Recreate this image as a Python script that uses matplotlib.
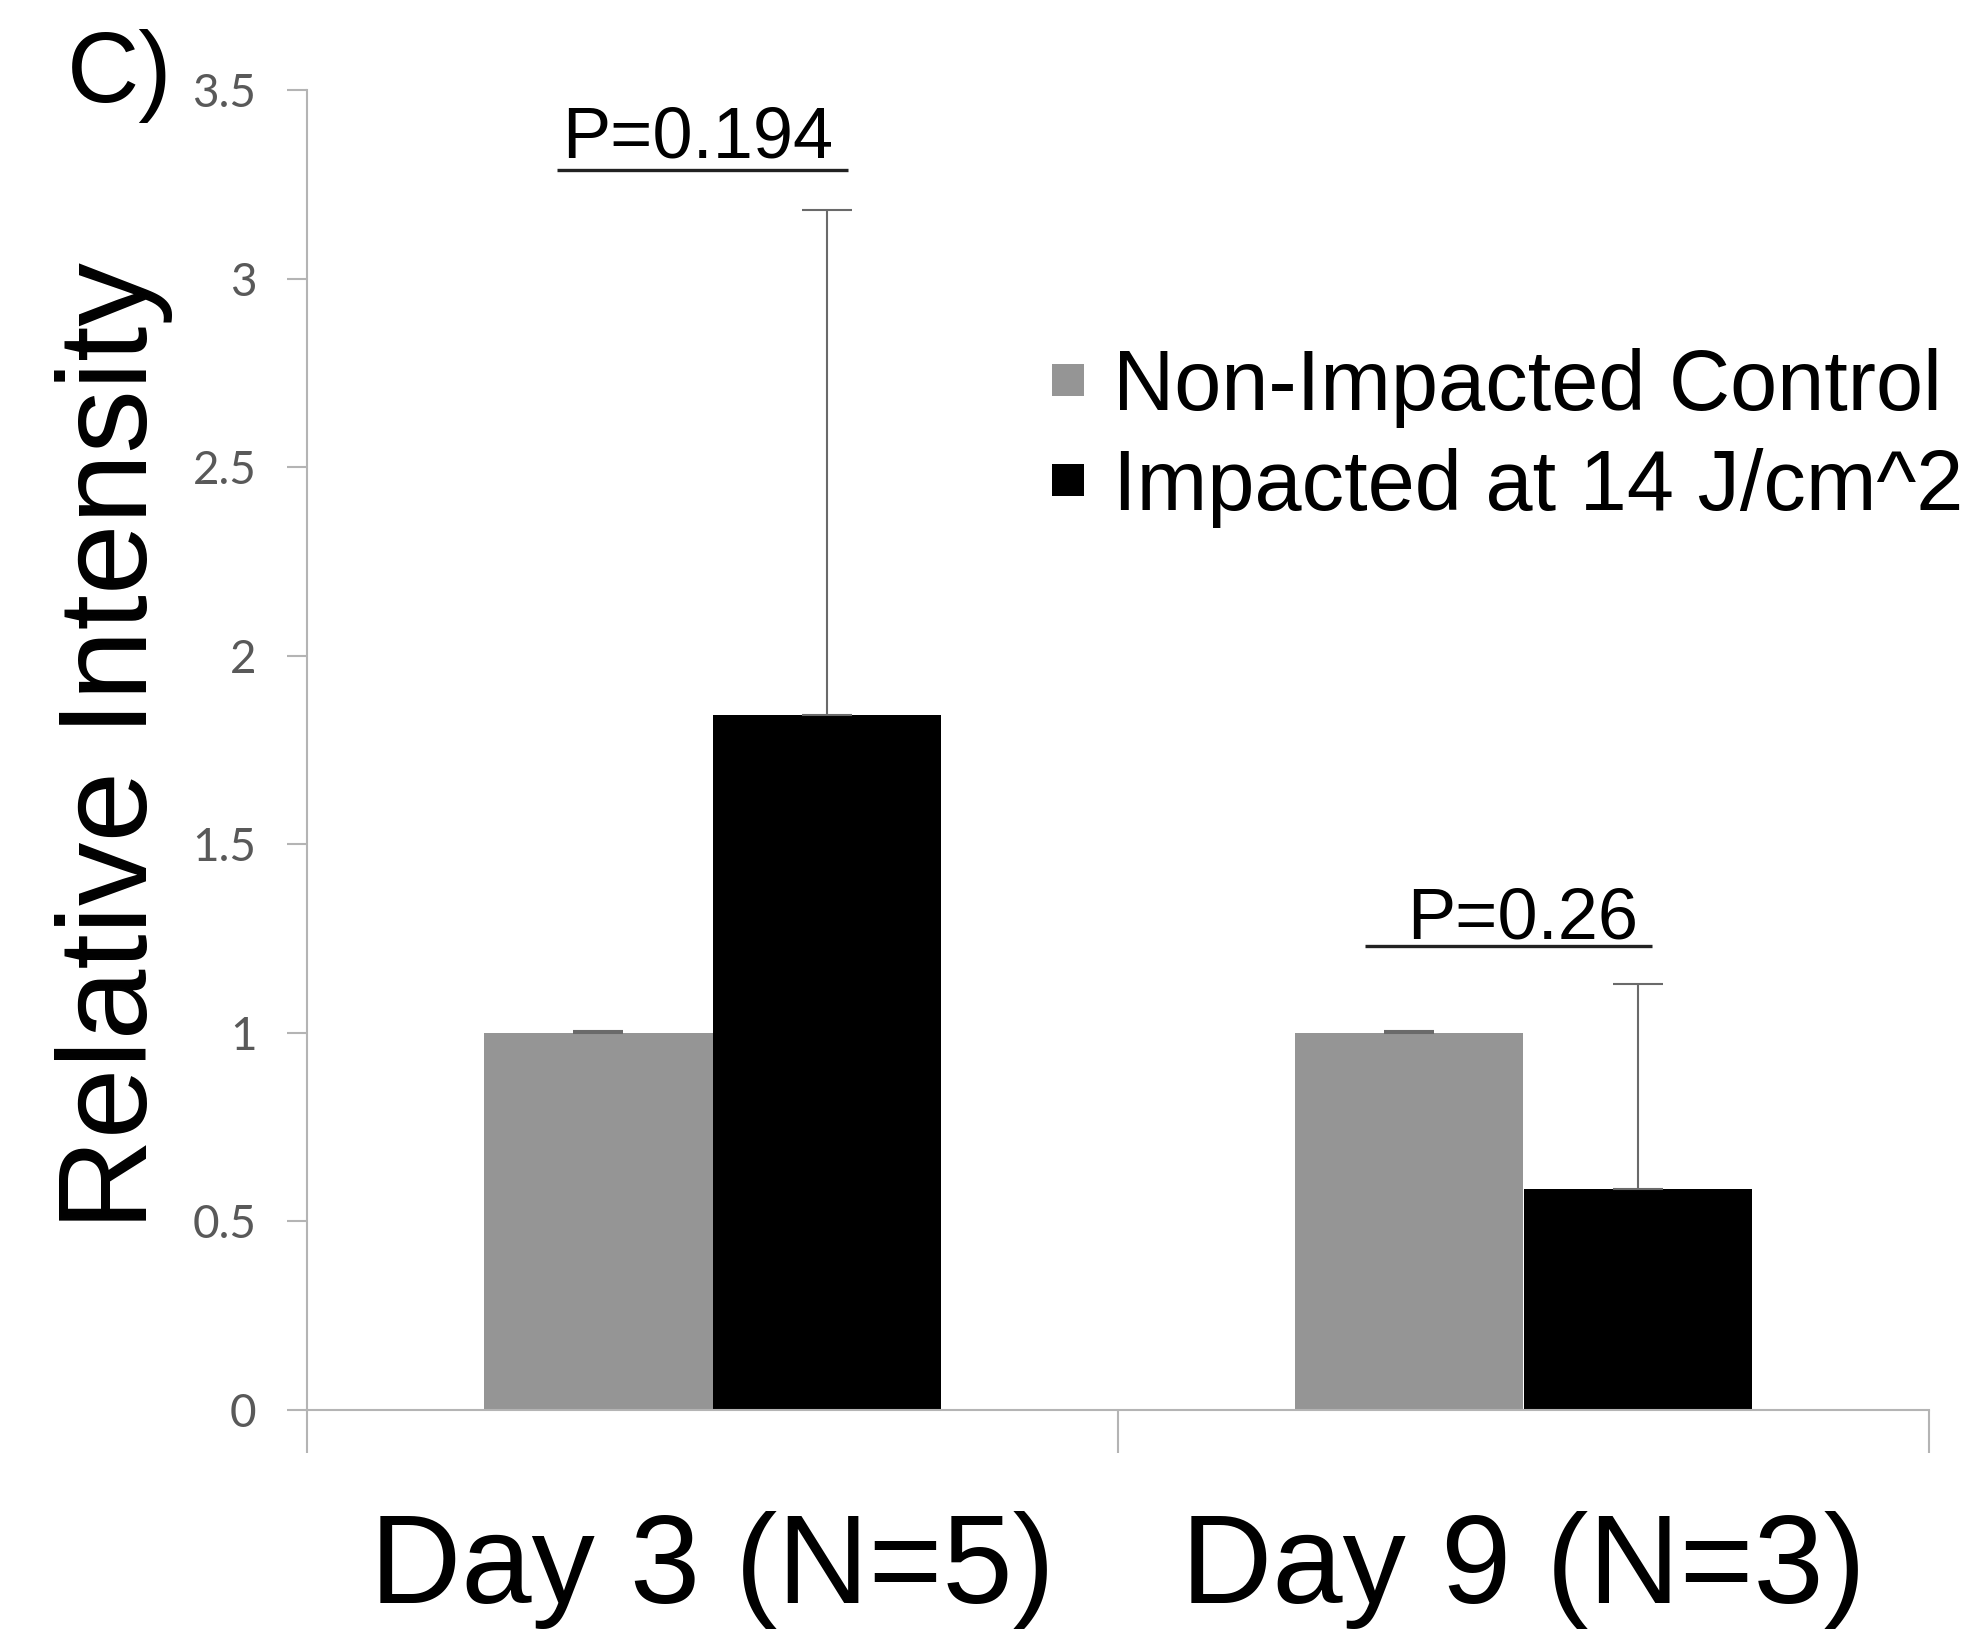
import matplotlib
matplotlib.use("Agg")
import matplotlib.pyplot as plt
import matplotlib.transforms as mtransforms
from matplotlib.patches import Rectangle
import numpy as np

# ---- data ----
categories = ["Day 3 (N=5)", "Day 9 (N=3)"]
series_names = ["Non-Impacted Control", "Impacted at 14 J/cm^2"]
control_vals = [1.0, 1.0]
control_err = [0.004, 0.004]
impacted_vals = [1.843, 0.586]
impacted_err = [1.34, 0.544]
yticks = [0, 0.5, 1, 1.5, 2, 2.5, 3, 3.5]
ytick_labels = ["0", "0.5", "1", "1.5", "2", "2.5", "3", "3.5"]
p_labels = ["P=0.194", "P=0.26"]

W, H = 1984, 1630
DPI = 100
fig = plt.figure(figsize=(W / DPI, H / DPI), dpi=DPI)
fig.patch.set_facecolor("white")

# axes in pixel geometry
L, R, T, B = 307, 1929, 90, 1410
ax = fig.add_axes([L / W, 1 - B / H, (R - L) / W, (B - T) / H])

AX_COL = "#b4b4b4"
GRAY = "#959595"
ERR_COL = "#6a6a6a"
SANS = ["Liberation Sans", "DejaVu Sans"]
series_colors = [GRAY, "black"]

x = np.arange(len(categories))
bw = 0.282
ax.bar(x - bw / 2, control_vals, bw, color=GRAY, edgecolor="none")
ax.bar(x + bw / 2, impacted_vals, bw, color="black", edgecolor="none")
ax.errorbar(x - bw / 2, control_vals, yerr=[[0, 0], control_err], fmt="none",
            ecolor=ERR_COL, elinewidth=1.5, capsize=18, capthick=1.5)
ax.errorbar(x + bw / 2, impacted_vals, yerr=[[0, 0], impacted_err], fmt="none",
            ecolor=ERR_COL, elinewidth=1.5, capsize=18, capthick=1.5)

ax.set_xlim(-0.5, len(categories) - 0.5)
ax.set_ylim(0, 3.5)

for s in ["top", "right"]:
    ax.spines[s].set_visible(False)
for s in ["left", "bottom"]:
    ax.spines[s].set_color(AX_COL)
    ax.spines[s].set_linewidth(1.5)

ax.set_yticks(yticks)
ax.set_yticklabels(ytick_labels, fontfamily=["Lato", "DejaVu Sans"], fontsize=33, color="#595959")
ax.tick_params(axis="y", direction="out", length=14.4, width=1.5, color=AX_COL, pad=22)

ax.set_xticks(np.arange(-0.5, len(categories), 1.0))
ax.set_xticklabels([])
ax.tick_params(axis="x", direction="out", length=31, width=1.5, color=AX_COL)

# category labels
btrans = mtransforms.blended_transform_factory(ax.transData, fig.transFigure)
for xi, lab in zip(x, categories):
    ax.text(xi, 1 - 1603 / H, lab, transform=btrans, ha="center", va="baseline",
            fontsize=91, fontfamily=SANS, color="black", clip_on=False)

# y label
fig.text(147 / W, 1 - 746 / H, "Relative Intensity", rotation=90, rotation_mode="anchor",
         ha="center", va="baseline", fontsize=91.5, fontfamily=SANS, color="black")

# panel letter
fig.text(67 / W, 1 - 102 / H, "C)", ha="left", va="baseline", fontsize=72,
         fontfamily=SANS, color="black")

# P-value annotations
ax.text(-0.1856, 3.320, p_labels[0], ha="left", va="baseline", fontsize=52, fontfamily=SANS)
ax.plot([-0.192, 0.167], [3.289, 3.289], color="#222222", lw=2.4, solid_capstyle="butt")
ax.text(0.856, 1.2515, p_labels[1], ha="left", va="baseline", fontsize=52, fontfamily=SANS)
ax.plot([0.805, 1.158], [1.230, 1.230], color="#222222", lw=2.4, solid_capstyle="butt")

# legend (square swatches + labels, placed in figure pixels)
pix = mtransforms.Affine2D().scale(1 / W, -1 / H).translate(0, 1) + fig.transFigure
row_pitch = 100
sq = 32
for i, (name, col) in enumerate(zip(series_names, series_colors)):
    cy = 380 + i * row_pitch
    fig.patches.append(Rectangle((1052, cy - sq / 2), sq, sq, transform=pix, facecolor=col,
                                 edgecolor="none"))
    fig.text(1113 / W, 1 - (410 + i * row_pitch) / H, name, ha="left", va="baseline",
             fontsize=61, fontfamily=SANS, color="black")

fig.savefig("out.png", dpi=DPI, facecolor="white")
